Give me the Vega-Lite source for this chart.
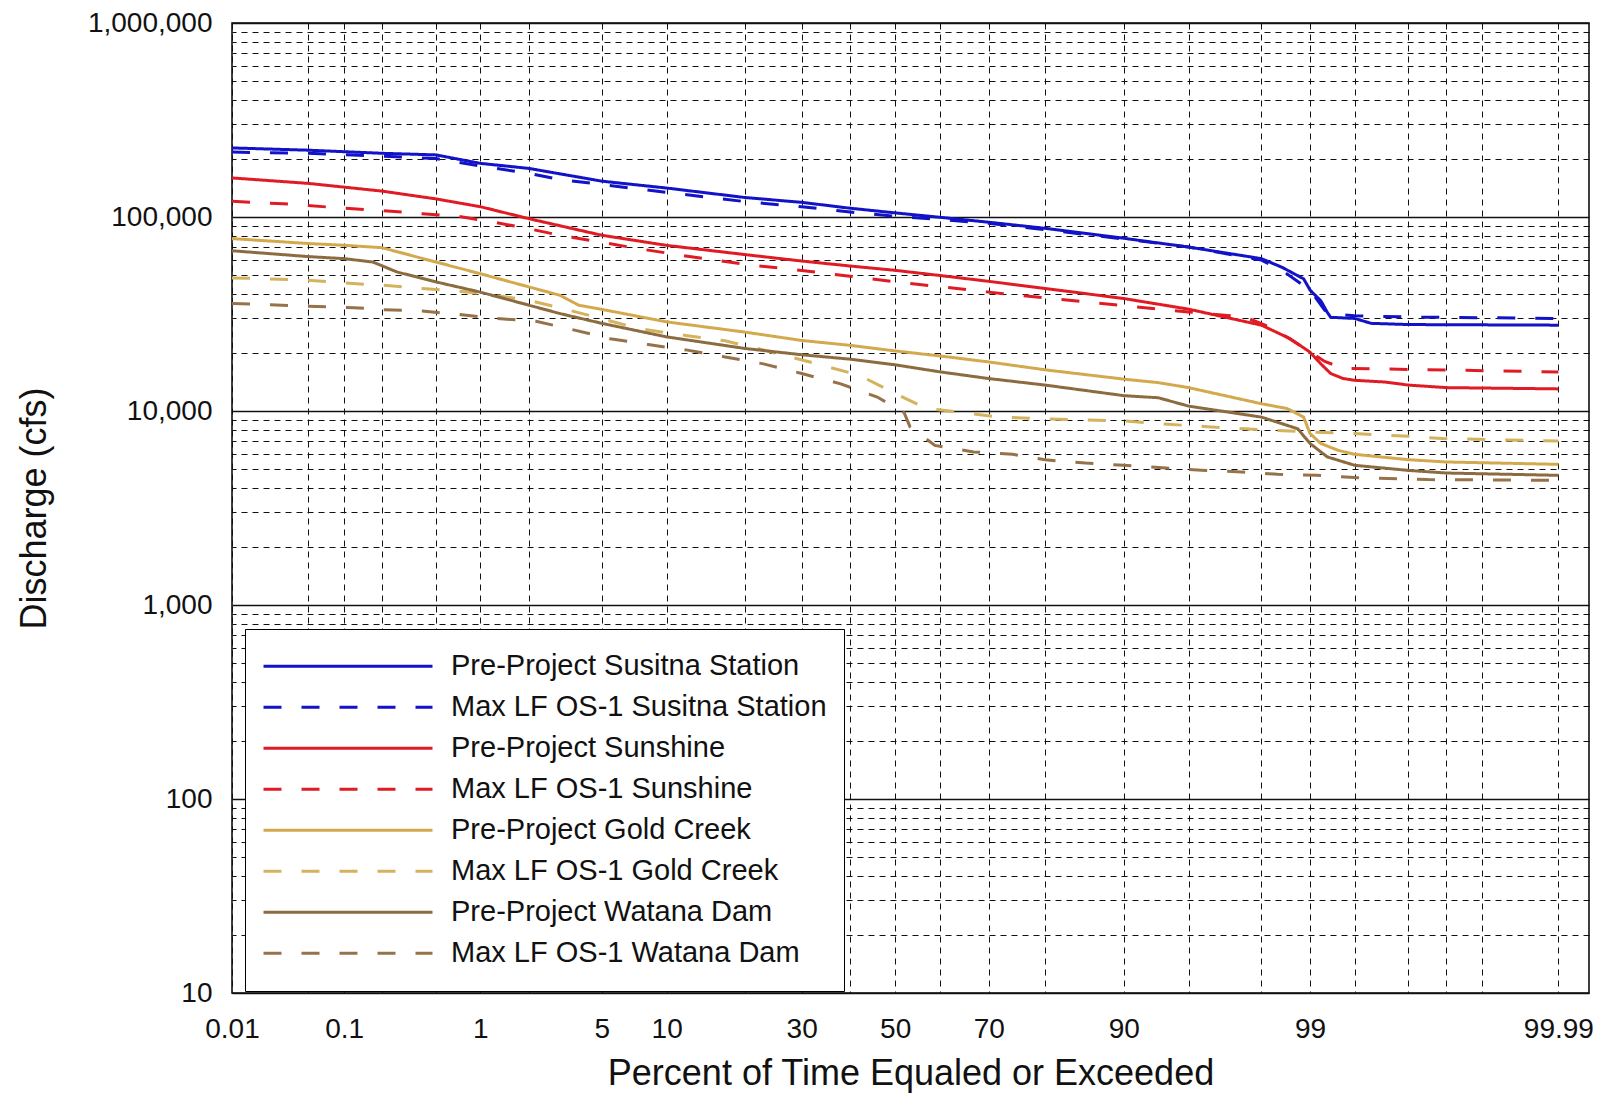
{
  "$schema": "https://vega.github.io/schema/vega-lite/v6.json",
  "width": 1357,
  "height": 970,
  "autosize": {"type": "none"},
  "padding": {"left": 232, "top": 23, "right": 20, "bottom": 100},
  "background": "white",
  "config": {"view": {"stroke": "black", "strokeWidth": 1.5}, "font": "Liberation Sans"},
  "datasets": {
    "curves": [
      {"series": "Pre-Project Susitna Station", "p": 0.01, "q": 227000},
      {"series": "Pre-Project Susitna Station", "p": 0.05, "q": 221000},
      {"series": "Pre-Project Susitna Station", "p": 0.2, "q": 213000},
      {"series": "Pre-Project Susitna Station", "p": 0.5, "q": 209000},
      {"series": "Pre-Project Susitna Station", "p": 1, "q": 189000},
      {"series": "Pre-Project Susitna Station", "p": 2, "q": 178000},
      {"series": "Pre-Project Susitna Station", "p": 5, "q": 153000},
      {"series": "Pre-Project Susitna Station", "p": 10, "q": 141000},
      {"series": "Pre-Project Susitna Station", "p": 20, "q": 126000},
      {"series": "Pre-Project Susitna Station", "p": 30, "q": 119000},
      {"series": "Pre-Project Susitna Station", "p": 40, "q": 111000},
      {"series": "Pre-Project Susitna Station", "p": 50, "q": 105000},
      {"series": "Pre-Project Susitna Station", "p": 60, "q": 99600},
      {"series": "Pre-Project Susitna Station", "p": 70, "q": 94000},
      {"series": "Pre-Project Susitna Station", "p": 80, "q": 87400},
      {"series": "Pre-Project Susitna Station", "p": 90, "q": 77700},
      {"series": "Pre-Project Susitna Station", "p": 95, "q": 70000},
      {"series": "Pre-Project Susitna Station", "p": 98, "q": 61000},
      {"series": "Pre-Project Susitna Station", "p": 98.5, "q": 55000},
      {"series": "Pre-Project Susitna Station", "p": 98.9, "q": 48000},
      {"series": "Pre-Project Susitna Station", "p": 99, "q": 42000},
      {"series": "Pre-Project Susitna Station", "p": 99.15, "q": 37000},
      {"series": "Pre-Project Susitna Station", "p": 99.23, "q": 32300},
      {"series": "Pre-Project Susitna Station", "p": 99.27, "q": 30400},
      {"series": "Pre-Project Susitna Station", "p": 99.5, "q": 30000},
      {"series": "Pre-Project Susitna Station", "p": 99.62, "q": 28300},
      {"series": "Pre-Project Susitna Station", "p": 99.8, "q": 27900},
      {"series": "Pre-Project Susitna Station", "p": 99.99, "q": 27700},

      {"series": "Max LF OS-1 Susitna Station", "p": 0.01, "q": 216000},
      {"series": "Max LF OS-1 Susitna Station", "p": 0.05, "q": 213000},
      {"series": "Max LF OS-1 Susitna Station", "p": 0.2, "q": 206000},
      {"series": "Max LF OS-1 Susitna Station", "p": 0.5, "q": 200000},
      {"series": "Max LF OS-1 Susitna Station", "p": 1, "q": 183000},
      {"series": "Max LF OS-1 Susitna Station", "p": 2, "q": 168000},
      {"series": "Max LF OS-1 Susitna Station", "p": 3, "q": 156000},
      {"series": "Max LF OS-1 Susitna Station", "p": 5, "q": 147000},
      {"series": "Max LF OS-1 Susitna Station", "p": 10, "q": 134000},
      {"series": "Max LF OS-1 Susitna Station", "p": 20, "q": 120000},
      {"series": "Max LF OS-1 Susitna Station", "p": 30, "q": 113000},
      {"series": "Max LF OS-1 Susitna Station", "p": 40, "q": 106000},
      {"series": "Max LF OS-1 Susitna Station", "p": 50, "q": 101000},
      {"series": "Max LF OS-1 Susitna Station", "p": 60, "q": 97000},
      {"series": "Max LF OS-1 Susitna Station", "p": 70, "q": 92800},
      {"series": "Max LF OS-1 Susitna Station", "p": 80, "q": 86000},
      {"series": "Max LF OS-1 Susitna Station", "p": 90, "q": 77000},
      {"series": "Max LF OS-1 Susitna Station", "p": 95, "q": 70000},
      {"series": "Max LF OS-1 Susitna Station", "p": 98, "q": 60000},
      {"series": "Max LF OS-1 Susitna Station", "p": 98.5, "q": 53000},
      {"series": "Max LF OS-1 Susitna Station", "p": 99, "q": 42000},
      {"series": "Max LF OS-1 Susitna Station", "p": 99.2, "q": 33000},
      {"series": "Max LF OS-1 Susitna Station", "p": 99.3, "q": 31500},
      {"series": "Max LF OS-1 Susitna Station", "p": 99.5, "q": 31000},
      {"series": "Max LF OS-1 Susitna Station", "p": 99.8, "q": 30500},
      {"series": "Max LF OS-1 Susitna Station", "p": 99.99, "q": 30000},

      {"series": "Pre-Project Sunshine", "p": 0.01, "q": 159000},
      {"series": "Pre-Project Sunshine", "p": 0.05, "q": 149000},
      {"series": "Pre-Project Sunshine", "p": 0.2, "q": 136000},
      {"series": "Pre-Project Sunshine", "p": 0.5, "q": 124000},
      {"series": "Pre-Project Sunshine", "p": 1, "q": 113000},
      {"series": "Pre-Project Sunshine", "p": 2, "q": 98000},
      {"series": "Pre-Project Sunshine", "p": 5, "q": 80500},
      {"series": "Pre-Project Sunshine", "p": 10, "q": 71400},
      {"series": "Pre-Project Sunshine", "p": 20, "q": 64000},
      {"series": "Pre-Project Sunshine", "p": 30, "q": 59300},
      {"series": "Pre-Project Sunshine", "p": 40, "q": 55900},
      {"series": "Pre-Project Sunshine", "p": 50, "q": 53100},
      {"series": "Pre-Project Sunshine", "p": 60, "q": 49900},
      {"series": "Pre-Project Sunshine", "p": 70, "q": 46600},
      {"series": "Pre-Project Sunshine", "p": 80, "q": 42800},
      {"series": "Pre-Project Sunshine", "p": 90, "q": 38000},
      {"series": "Pre-Project Sunshine", "p": 95, "q": 33500},
      {"series": "Pre-Project Sunshine", "p": 98, "q": 27700},
      {"series": "Pre-Project Sunshine", "p": 98.66, "q": 23600},
      {"series": "Pre-Project Sunshine", "p": 99, "q": 20100},
      {"series": "Pre-Project Sunshine", "p": 99.15, "q": 17500},
      {"series": "Pre-Project Sunshine", "p": 99.27, "q": 15600},
      {"series": "Pre-Project Sunshine", "p": 99.4, "q": 14700},
      {"series": "Pre-Project Sunshine", "p": 99.5, "q": 14400},
      {"series": "Pre-Project Sunshine", "p": 99.7, "q": 14100},
      {"series": "Pre-Project Sunshine", "p": 99.8, "q": 13600},
      {"series": "Pre-Project Sunshine", "p": 99.9, "q": 13200},
      {"series": "Pre-Project Sunshine", "p": 99.99, "q": 13000},

      {"series": "Max LF OS-1 Sunshine", "p": 0.01, "q": 120500},
      {"series": "Max LF OS-1 Sunshine", "p": 0.03, "q": 117000},
      {"series": "Max LF OS-1 Sunshine", "p": 0.1, "q": 111000},
      {"series": "Max LF OS-1 Sunshine", "p": 0.2, "q": 108000},
      {"series": "Max LF OS-1 Sunshine", "p": 0.4, "q": 104000},
      {"series": "Max LF OS-1 Sunshine", "p": 0.7, "q": 101000},
      {"series": "Max LF OS-1 Sunshine", "p": 1.1, "q": 95400},
      {"series": "Max LF OS-1 Sunshine", "p": 2, "q": 87000},
      {"series": "Max LF OS-1 Sunshine", "p": 3, "q": 80500},
      {"series": "Max LF OS-1 Sunshine", "p": 5, "q": 74000},
      {"series": "Max LF OS-1 Sunshine", "p": 7.5, "q": 68700},
      {"series": "Max LF OS-1 Sunshine", "p": 12, "q": 63000},
      {"series": "Max LF OS-1 Sunshine", "p": 20, "q": 57000},
      {"series": "Max LF OS-1 Sunshine", "p": 30, "q": 53000},
      {"series": "Max LF OS-1 Sunshine", "p": 40, "q": 49500},
      {"series": "Max LF OS-1 Sunshine", "p": 50, "q": 46300},
      {"series": "Max LF OS-1 Sunshine", "p": 60, "q": 43700},
      {"series": "Max LF OS-1 Sunshine", "p": 70, "q": 41000},
      {"series": "Max LF OS-1 Sunshine", "p": 80, "q": 38300},
      {"series": "Max LF OS-1 Sunshine", "p": 90, "q": 34900},
      {"series": "Max LF OS-1 Sunshine", "p": 95, "q": 32400},
      {"series": "Max LF OS-1 Sunshine", "p": 97.5, "q": 30500},
      {"series": "Max LF OS-1 Sunshine", "p": 98.3, "q": 26600},
      {"series": "Max LF OS-1 Sunshine", "p": 98.7, "q": 23100},
      {"series": "Max LF OS-1 Sunshine", "p": 99.2, "q": 18000},
      {"series": "Max LF OS-1 Sunshine", "p": 99.4, "q": 16600},
      {"series": "Max LF OS-1 Sunshine", "p": 99.99, "q": 15900},

      {"series": "Pre-Project Gold Creek", "p": 0.01, "q": 77400},
      {"series": "Pre-Project Gold Creek", "p": 0.05, "q": 73000},
      {"series": "Pre-Project Gold Creek", "p": 0.1, "q": 71500},
      {"series": "Pre-Project Gold Creek", "p": 0.2, "q": 69500},
      {"series": "Pre-Project Gold Creek", "p": 0.5, "q": 58600},
      {"series": "Pre-Project Gold Creek", "p": 1, "q": 51000},
      {"series": "Pre-Project Gold Creek", "p": 2, "q": 43600},
      {"series": "Pre-Project Gold Creek", "p": 3, "q": 39500},
      {"series": "Pre-Project Gold Creek", "p": 3.8, "q": 35100},
      {"series": "Pre-Project Gold Creek", "p": 5, "q": 33400},
      {"series": "Pre-Project Gold Creek", "p": 10, "q": 28800},
      {"series": "Pre-Project Gold Creek", "p": 20, "q": 25500},
      {"series": "Pre-Project Gold Creek", "p": 30, "q": 23100},
      {"series": "Pre-Project Gold Creek", "p": 40, "q": 21800},
      {"series": "Pre-Project Gold Creek", "p": 50, "q": 20400},
      {"series": "Pre-Project Gold Creek", "p": 60, "q": 19200},
      {"series": "Pre-Project Gold Creek", "p": 70, "q": 17900},
      {"series": "Pre-Project Gold Creek", "p": 80, "q": 16300},
      {"series": "Pre-Project Gold Creek", "p": 90, "q": 14600},
      {"series": "Pre-Project Gold Creek", "p": 93, "q": 14000},
      {"series": "Pre-Project Gold Creek", "p": 95, "q": 13200},
      {"series": "Pre-Project Gold Creek", "p": 98, "q": 10900},
      {"series": "Pre-Project Gold Creek", "p": 98.6, "q": 10300},
      {"series": "Pre-Project Gold Creek", "p": 98.9, "q": 9300},
      {"series": "Pre-Project Gold Creek", "p": 99, "q": 7650},
      {"series": "Pre-Project Gold Creek", "p": 99.15, "q": 6800},
      {"series": "Pre-Project Gold Creek", "p": 99.35, "q": 6270},
      {"series": "Pre-Project Gold Creek", "p": 99.5, "q": 5980},
      {"series": "Pre-Project Gold Creek", "p": 99.8, "q": 5610},
      {"series": "Pre-Project Gold Creek", "p": 99.9, "q": 5460},
      {"series": "Pre-Project Gold Creek", "p": 99.99, "q": 5310},

      {"series": "Max LF OS-1 Gold Creek", "p": 0.01, "q": 48500},
      {"series": "Max LF OS-1 Gold Creek", "p": 0.02, "q": 48100},
      {"series": "Max LF OS-1 Gold Creek", "p": 0.05, "q": 47200},
      {"series": "Max LF OS-1 Gold Creek", "p": 0.1, "q": 45700},
      {"series": "Max LF OS-1 Gold Creek", "p": 0.2, "q": 44500},
      {"series": "Max LF OS-1 Gold Creek", "p": 0.4, "q": 42800},
      {"series": "Max LF OS-1 Gold Creek", "p": 0.7, "q": 41600},
      {"series": "Max LF OS-1 Gold Creek", "p": 1.1, "q": 40000},
      {"series": "Max LF OS-1 Gold Creek", "p": 2, "q": 37200},
      {"series": "Max LF OS-1 Gold Creek", "p": 3.2, "q": 33500},
      {"series": "Max LF OS-1 Gold Creek", "p": 5, "q": 29900},
      {"series": "Max LF OS-1 Gold Creek", "p": 7.5, "q": 26600},
      {"series": "Max LF OS-1 Gold Creek", "p": 12, "q": 24500},
      {"series": "Max LF OS-1 Gold Creek", "p": 17, "q": 23000},
      {"series": "Max LF OS-1 Gold Creek", "p": 22, "q": 21000},
      {"series": "Max LF OS-1 Gold Creek", "p": 33, "q": 17500},
      {"series": "Max LF OS-1 Gold Creek", "p": 42, "q": 15300},
      {"series": "Max LF OS-1 Gold Creek", "p": 50, "q": 12300},
      {"series": "Max LF OS-1 Gold Creek", "p": 57, "q": 10300},
      {"series": "Max LF OS-1 Gold Creek", "p": 65, "q": 9800},
      {"series": "Max LF OS-1 Gold Creek", "p": 72, "q": 9300},
      {"series": "Max LF OS-1 Gold Creek", "p": 80, "q": 9100},
      {"series": "Max LF OS-1 Gold Creek", "p": 90, "q": 8900},
      {"series": "Max LF OS-1 Gold Creek", "p": 93, "q": 8600},
      {"series": "Max LF OS-1 Gold Creek", "p": 96, "q": 8300},
      {"series": "Max LF OS-1 Gold Creek", "p": 98, "q": 8000},
      {"series": "Max LF OS-1 Gold Creek", "p": 99, "q": 7800},
      {"series": "Max LF OS-1 Gold Creek", "p": 99.5, "q": 7650},
      {"series": "Max LF OS-1 Gold Creek", "p": 99.8, "q": 7400},
      {"series": "Max LF OS-1 Gold Creek", "p": 99.9, "q": 7200},
      {"series": "Max LF OS-1 Gold Creek", "p": 99.99, "q": 7000},

      {"series": "Pre-Project Watana Dam", "p": 0.01, "q": 67000},
      {"series": "Pre-Project Watana Dam", "p": 0.05, "q": 62500},
      {"series": "Pre-Project Watana Dam", "p": 0.1, "q": 61000},
      {"series": "Pre-Project Watana Dam", "p": 0.17, "q": 58600},
      {"series": "Pre-Project Watana Dam", "p": 0.26, "q": 52100},
      {"series": "Pre-Project Watana Dam", "p": 0.5, "q": 46300},
      {"series": "Pre-Project Watana Dam", "p": 1, "q": 41000},
      {"series": "Pre-Project Watana Dam", "p": 2, "q": 35100},
      {"series": "Pre-Project Watana Dam", "p": 3, "q": 31800},
      {"series": "Pre-Project Watana Dam", "p": 5, "q": 28300},
      {"series": "Pre-Project Watana Dam", "p": 10, "q": 24100},
      {"series": "Pre-Project Watana Dam", "p": 20, "q": 21000},
      {"series": "Pre-Project Watana Dam", "p": 30, "q": 19500},
      {"series": "Pre-Project Watana Dam", "p": 40, "q": 18500},
      {"series": "Pre-Project Watana Dam", "p": 50, "q": 17300},
      {"series": "Pre-Project Watana Dam", "p": 60, "q": 15900},
      {"series": "Pre-Project Watana Dam", "p": 70, "q": 14700},
      {"series": "Pre-Project Watana Dam", "p": 80, "q": 13600},
      {"series": "Pre-Project Watana Dam", "p": 90, "q": 12000},
      {"series": "Pre-Project Watana Dam", "p": 93, "q": 11700},
      {"series": "Pre-Project Watana Dam", "p": 95, "q": 10600},
      {"series": "Pre-Project Watana Dam", "p": 98, "q": 9300},
      {"series": "Pre-Project Watana Dam", "p": 98.8, "q": 8100},
      {"series": "Pre-Project Watana Dam", "p": 99, "q": 6800},
      {"series": "Pre-Project Watana Dam", "p": 99.23, "q": 5800},
      {"series": "Pre-Project Watana Dam", "p": 99.5, "q": 5250},
      {"series": "Pre-Project Watana Dam", "p": 99.8, "q": 4940},
      {"series": "Pre-Project Watana Dam", "p": 99.9, "q": 4790},
      {"series": "Pre-Project Watana Dam", "p": 99.99, "q": 4660},

      {"series": "Max LF OS-1 Watana Dam", "p": 0.01, "q": 35800},
      {"series": "Max LF OS-1 Watana Dam", "p": 0.02, "q": 35400},
      {"series": "Max LF OS-1 Watana Dam", "p": 0.05, "q": 34700},
      {"series": "Max LF OS-1 Watana Dam", "p": 0.12, "q": 34100},
      {"series": "Max LF OS-1 Watana Dam", "p": 0.2, "q": 33300},
      {"series": "Max LF OS-1 Watana Dam", "p": 0.4, "q": 32800},
      {"series": "Max LF OS-1 Watana Dam", "p": 0.7, "q": 31500},
      {"series": "Max LF OS-1 Watana Dam", "p": 1.2, "q": 30100},
      {"series": "Max LF OS-1 Watana Dam", "p": 2.2, "q": 29000},
      {"series": "Max LF OS-1 Watana Dam", "p": 3.5, "q": 26300},
      {"series": "Max LF OS-1 Watana Dam", "p": 5.5, "q": 23600},
      {"series": "Max LF OS-1 Watana Dam", "p": 8.3, "q": 22000},
      {"series": "Max LF OS-1 Watana Dam", "p": 12.2, "q": 20600},
      {"series": "Max LF OS-1 Watana Dam", "p": 17, "q": 19000},
      {"series": "Max LF OS-1 Watana Dam", "p": 23, "q": 17500},
      {"series": "Max LF OS-1 Watana Dam", "p": 30, "q": 15600},
      {"series": "Max LF OS-1 Watana Dam", "p": 38, "q": 13800},
      {"series": "Max LF OS-1 Watana Dam", "p": 46, "q": 11800},
      {"series": "Max LF OS-1 Watana Dam", "p": 52, "q": 9800},
      {"series": "Max LF OS-1 Watana Dam", "p": 53.3, "q": 8300},
      {"series": "Max LF OS-1 Watana Dam", "p": 58.8, "q": 6650},
      {"series": "Max LF OS-1 Watana Dam", "p": 67, "q": 6150},
      {"series": "Max LF OS-1 Watana Dam", "p": 74.5, "q": 5980},
      {"series": "Max LF OS-1 Watana Dam", "p": 80, "q": 5600},
      {"series": "Max LF OS-1 Watana Dam", "p": 85.7, "q": 5390},
      {"series": "Max LF OS-1 Watana Dam", "p": 90, "q": 5250},
      {"series": "Max LF OS-1 Watana Dam", "p": 93.3, "q": 5100},
      {"series": "Max LF OS-1 Watana Dam", "p": 95.7, "q": 4950},
      {"series": "Max LF OS-1 Watana Dam", "p": 97.4, "q": 4850},
      {"series": "Max LF OS-1 Watana Dam", "p": 98.4, "q": 4720},
      {"series": "Max LF OS-1 Watana Dam", "p": 99.1, "q": 4660},
      {"series": "Max LF OS-1 Watana Dam", "p": 99.5, "q": 4540},
      {"series": "Max LF OS-1 Watana Dam", "p": 99.86, "q": 4430},
      {"series": "Max LF OS-1 Watana Dam", "p": 99.99, "q": 4390}
    ]
  },
  "data": {"name": "curves"},
  "transform": [{"calculate": "quantileNormal(datum.p / 100)", "as": "z"}],
  "encoding": {
    "x": {
      "field": "z",
      "type": "quantitative",
      "scale": {"domain": [-3.719, 3.8906], "nice": false, "zero": false},
      "axis": {
        "values": [-3.719, -3.2905, -3.0902, -2.8782, -2.5758, -2.3263, -2.0537, -1.6449, -1.28155, -0.8416, -0.5244, -0.2533, 0, 0.2533, 0.5244, 0.8416, 1.28155, 1.6449, 2.0537, 2.3263, 2.5758, 2.8782, 3.0902, 3.2905, 3.719],
        "labelExpr": "indexof(['0.01','0.1','1','5','10','30','50','70','90','99','99.99'], '' + (round(cumulativeNormal(datum.value) * 10000) / 100)) >= 0 ? '' + (round(cumulativeNormal(datum.value) * 10000) / 100) : ''",
        "labelFontSize": 28,
        "labelColor": "#111111",
        "labelPadding": 22,
        "labelOverlap": false,
        "labelFlush": false,
        "ticks": false,
        "domain": false,
        "grid": true,
        "gridColor": "#111111",
        "gridDash": [6, 5],
        "gridWidth": 1,
        "gridOpacity": 1,
        "title": "Percent of Time Equaled or Exceeded",
        "titleFontSize": 36,
        "titleFontWeight": "normal",
        "titleColor": "#111111",
        "titlePadding": 13
      }
    }
  },
  "layer": [
    {
      "mark": {"type": "line", "strokeOpacity": 0},
      "encoding": {
        "detail": {"field": "series"},
        "y": {
          "field": "q",
          "type": "quantitative",
          "scale": {"type": "log", "domain": [10, 1000000], "nice": false},
          "axis": {
            "orient": "right",
            "values": [20, 30, 40, 50, 60, 70, 80, 90, 200, 300, 400, 500, 600, 700, 800, 900, 2000, 3000, 4000, 5000, 6000, 7000, 8000, 9000, 20000, 30000, 40000, 50000, 60000, 70000, 80000, 90000, 200000, 300000, 400000, 500000, 600000, 700000, 800000, 900000],
            "labels": false,
            "ticks": false,
            "domain": false,
            "grid": true,
            "gridColor": "#111111",
            "gridDash": [6, 5],
            "gridWidth": 1,
            "gridOpacity": 1,
            "title": null
          }
        }
      }
    },
    {
      "mark": {"type": "line", "strokeWidth": 3},
      "encoding": {
        "y": {
          "field": "q",
          "type": "quantitative",
          "scale": {"type": "log", "domain": [10, 1000000], "nice": false},
          "axis": {
            "values": [10, 100, 1000, 10000, 100000, 1000000],
            "format": ",",
            "labelFontSize": 28,
            "labelColor": "#111111",
            "labelPadding": 20,
            "labelOverlap": false,
            "labelFlush": false,
            "ticks": false,
            "domain": false,
            "grid": true,
            "gridColor": "#111111",
            "gridWidth": 1.3,
            "gridOpacity": 1,
            "title": "Discharge (cfs)",
            "titleFontSize": 36,
            "titleFontWeight": "normal",
            "titleColor": "#111111",
            "titlePadding": 34
          }
        },
        "color": {
          "field": "series",
          "type": "nominal",
          "scale": {
            "domain": ["Pre-Project Susitna Station", "Max LF OS-1 Susitna Station", "Pre-Project Sunshine", "Max LF OS-1 Sunshine", "Pre-Project Gold Creek", "Max LF OS-1 Gold Creek", "Pre-Project Watana Dam", "Max LF OS-1 Watana Dam"],
            "range": ["#1212C8", "#1212C8", "#E01B24", "#E01B24", "#D3A94E", "#D4B35E", "#8C6B40", "#957249"]
          },
          "legend": {
            "title": null,
            "orient": "none",
            "legendX": 13,
            "legendY": 606,
            "symbolType": "stroke",
            "symbolSize": 28561,
            "symbolStrokeWidth": 3,
            "labelFontSize": 29,
            "labelColor": "#111111",
            "labelOffset": 17,
            "labelLimit": 600,
            "padding": 17,
            "rowPadding": 0,
            "clipHeight": 40.6,
            "fillColor": "white",
            "strokeColor": "black"
          }
        },
        "strokeDash": {
          "field": "series",
          "type": "nominal",
          "scale": {
            "domain": ["Pre-Project Susitna Station", "Max LF OS-1 Susitna Station", "Pre-Project Sunshine", "Max LF OS-1 Sunshine", "Pre-Project Gold Creek", "Max LF OS-1 Gold Creek", "Pre-Project Watana Dam", "Max LF OS-1 Watana Dam"],
            "range": [[1, 0], [18, 20], [1, 0], [18, 20], [1, 0], [18, 20], [1, 0], [18, 20]]
          },
          "legend": {
            "title": null,
            "orient": "none",
            "legendX": 13,
            "legendY": 606,
            "symbolType": "stroke",
            "symbolSize": 28561,
            "symbolStrokeWidth": 3,
            "labelFontSize": 29,
            "labelColor": "#111111",
            "labelOffset": 17,
            "labelLimit": 600,
            "padding": 17,
            "rowPadding": 0,
            "clipHeight": 40.6,
            "fillColor": "white",
            "strokeColor": "black"
          }
        }
      }
    }
  ],
  "resolve": {"axis": {"y": "independent"}}
}
